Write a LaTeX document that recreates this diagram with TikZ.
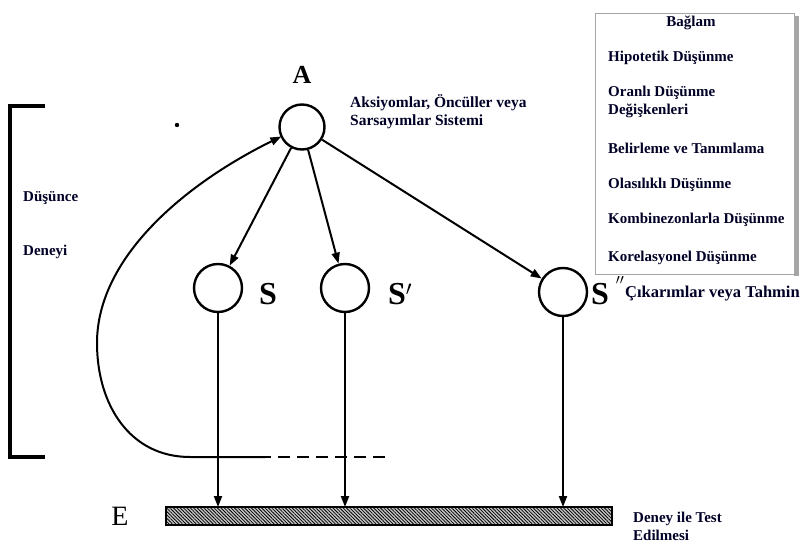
\documentclass[tikz,border=0pt]{standalone}
\usepackage{fontspec}
\setmainfont{Liberation Serif}
\usetikzlibrary{arrows.meta,patterns.meta}
\tikzset{
  circ/.style={circle,draw,line width=2.4pt,minimum size=48pt,inner sep=0pt},
  conn/.style={line width=2pt,-{Triangle[length=11pt,width=8pt]}},
  lbl/.style={font=\bfseries\fontsize{15}{18}\selectfont,text=black!85!blue,anchor=west,inner sep=0pt,align=left},
  big/.style={font=\bfseries\fontsize{32}{34}\selectfont,inner sep=0pt},
}
\begin{document}
\begin{tikzpicture}[x=1pt,y=-1pt]
\useasboundingbox (0,0) rectangle (800,545);
% bracket
\draw[line width=3.5pt] (45,106) -- (10,106) -- (10,457) -- (45,457);
\node[lbl] (d1) at (23,198) {Düşünce};
\node[lbl] (d2) at (23,252) {Deneyi};
\fill (177,125) circle (2.2pt);
% circles
\node[circ,minimum size=45pt] (A) at (302,127) {};
\node[big,font=\bfseries\fontsize{26}{28}\selectfont] (Al) at (302,75) {A};
\node[lbl,font=\bfseries\fontsize{15.5}{18}\selectfont] (At) at (350,112) {Aksiyomlar, Öncüller veya\\Sarsayımlar Sistemi};
\node[circ] (S) at (218,288) {};
\node[circ] (S1) at (345,288) {};
\node[circ] (S2) at (563,292) {};
\node[big] (Sl) at (268,294) {S};
\node[big] (S1l) at (400,294) {S$'$};
\node[big,anchor=west] (S2l) at (591,294) {S};
\node[font=\bfseries\fontsize{22}{22}\selectfont,inner sep=0pt] (S2p) at (620,284) {$''$};
\node[lbl,font=\bfseries\fontsize{16.5}{18}\selectfont] (S2t) at (625,294) {Çıkarımlar veya Tahmin};
% bar
\node[draw,line width=2pt,minimum width=446pt,minimum height=18pt,inner sep=0pt,
  preaction={fill=gray!45},pattern={Lines[angle=-45,distance=2.4pt,line width=0.8pt]},anchor=north west] (E) at (166,507) {};
\node[big,font=\fontsize{28}{30}\selectfont] (El) at (120,516) {E};
\node[lbl] (Et) at (633,526) {Deney ile Test\\Edilmesi};
% arrows
\draw[conn] (A) -- (S);
\draw[conn] (A) -- (S1);
\draw[conn] (A) -- (S2);
\draw[conn] (S.south) -- (S.south |- E.north);
\draw[conn] (S1.south) -- (S1.south |- E.north);
\draw[conn] (S2.south) -- (S2.south |- E.north);
% feedback curve
\coordinate (c0) at (385,457);
\coordinate (c1) at (265,457);
\coordinate (c2) at (190,457);
\draw[line width=2pt,dash pattern=on 12pt off 7pt] (c0) -- (c1);
\draw[line width=2pt,-{Triangle[length=11pt,width=8pt]}] (c1) -- (c2) .. controls (130,457) and (97,405) .. (97,343) .. controls (97,255) and (190,180) .. (A.west |- 0,138) -- ++(3,-1.5);
% box
\fill[gray!70] (794,16) rectangle (799,276);
\draw[gray!70,line width=0.8pt,fill=white] (595,13) rectangle (794,274);
\node[lbl,anchor=center] (b0) at (691,23) {Bağlam};
\node[lbl] (b1) at (608,58) {Hipotetik Düşünme};
\node[lbl] (b2) at (608,102) {Oranlı Düşünme\\Değişkenleri};
\node[lbl] (b3) at (608,148) {Belirleme ve Tanımlama};
\node[lbl] (b4) at (608,185) {Olasılıklı Düşünme};
\node[lbl] (b5) at (608,220) {Kombinezonlarla Düşünme};
\node[lbl] (b6) at (608,258) {Korelasyonel Düşünme};
\end{tikzpicture}
\end{document}
